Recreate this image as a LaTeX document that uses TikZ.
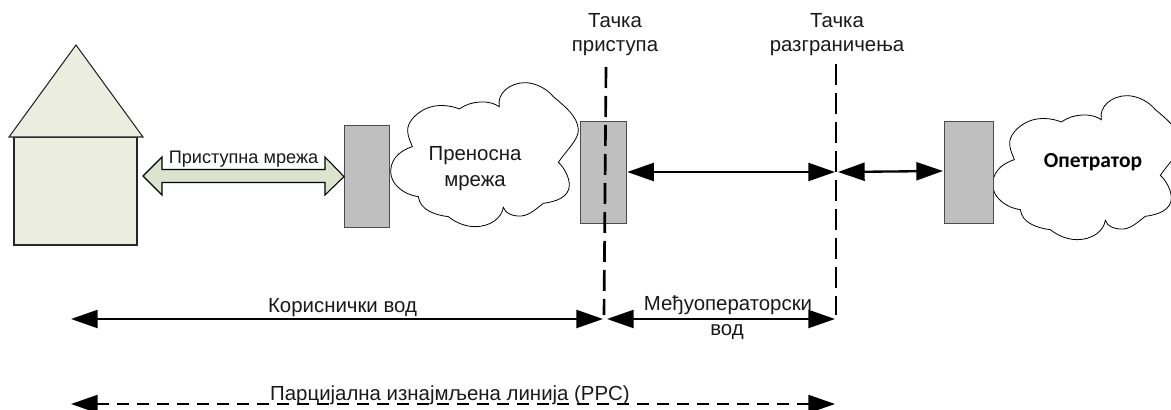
\documentclass[tikz,border=0pt]{standalone}
\usepackage{fontspec}
\setmainfont{Liberation Sans}
\newfontfamily\boldcal[Ligatures=TeX]{Carlito}
\usetikzlibrary{arrows.meta}
\newcommand{\cloudshape}[2]{%
\begin{scope}[shift={(#1*.75pt,-#2*.75pt)},x=.25pt,y=-.25pt]
\draw[cloudline] (217,440) .. controls (170,455) and (152,485) .. (152,515) .. controls (152,555) and (195,585) .. (235,590)
.. controls (240,630) and (285,645) .. (325,650) .. controls (350,670) and (380,680) .. (405,680) .. controls (450,680) and (485,655) .. (490,622)
.. controls (495,640) and (520,650) .. (545,648) .. controls (570,645) and (590,625) .. (610,610) .. controls (650,605) and (688,590) .. (688,555) .. controls (688,530) and (670,500) .. (655,487)
.. controls (680,450) and (715,420) .. (715,390) .. controls (715,350) and (670,315) .. (640,290) .. controls (620,265) and (585,248) .. (555,248) .. controls (510,248) and (470,280) .. (478,320)
.. controls (450,300) and (395,300) .. (358,327) .. controls (330,315) and (290,312) .. (260,325) .. controls (225,340) and (200,370) .. (203,395) .. controls (205,415) and (212,425) .. (217,440) -- cycle;
\end{scope}}
\tikzset{
 x=.75pt,y=-.75pt,
 cloudline/.style={draw=black,fill=white,line width=.6pt},
 housepart/.style={draw=black!85,fill=houseg,line width=.8pt,line join=miter},
 grey box/.style={draw=black!70,fill=boxg,line width=.9pt,inner sep=0,minimum width=#1*.75pt,minimum height=76.5pt},
 label/.style={inner sep=0,align=center,font=\fontsize{15.3pt}{18pt}\selectfont,text=black!90},
 baselabel/.style={label,anchor=base},
 bigarrow/.style={line width=1.75pt,{Triangle[length=20pt,width=13.5pt]}-{Triangle[length=20pt,width=13.5pt]}},
 dashline/.style={line width=2pt,dash pattern=on 15.75pt off 6pt},
}
\definecolor{houseg}{HTML}{EBEEDF}
\definecolor{boxg}{HTML}{BFBFBF}
\definecolor{arrowg}{HTML}{DDE3CD}
\begin{document}
\begin{tikzpicture}
\useasboundingbox (0,0) rectangle (1171,410);
% house
\draw[housepart] (14,137) rectangle (137,245);
\draw[housepart] (9,137) -- (76,45) -- (143,137) -- cycle;
% boxes and clouds
\cloudshape{340}{0}
\cloudshape{942}{13}
\node[grey box=45,anchor=north west] (b1) at (344,125) {};
\node[grey box=46,anchor=north west] (b2) at (580,121) {};
\node[grey box=49,anchor=north west] (b3) at (944,121) {};
% fat double arrow
\coordinate (al) at (143,176);
\draw[draw=black,fill=arrowg,line width=.8pt,line join=miter] (al) -- (162,157) -- (162,169.5) -- (325,169.5) -- (325,157) -- (b1.west) -- (325,195) -- (325,182.5) -- (162,182.5) -- (162,195) -- cycle;
\node[baselabel,fill=white,inner xsep=1pt,font=\fontsize{13.6pt}{16pt}\selectfont] (acc) at (243.5,163) {Приступна мрежа};
% vertical dashed lines
\coordinate (v1t) at (606,67);
\coordinate (v1b) at (604,315);
\coordinate (v2t) at (836,64);
\coordinate (v2b) at (836,315);
\coordinate (m) at (835,172);
\draw[dashline] (v1t) -- (v1b);
\draw[dashline] (v2t) -- (v2b);
% arrows
\draw[bigarrow] (b2.east |- m) -- (m);
\draw[bigarrow] (838,172) -- (943,171);
\coordinate (ll) at (71,319);
\coordinate (lm) at (603,319);
\coordinate (lm2) at (607,319);
\coordinate (lr) at (835,319);
\draw[bigarrow] (ll) -- (lm);
\draw[bigarrow] (lm2) -- (lr);
\coordinate (dl) at (71,404);
\coordinate (dr) at (835,404);
\draw[bigarrow,line width=1.6pt,dash pattern=on 9pt off 6pt] (dl) -- (dr);
% labels
\node[label] (t1) at (615,35) {Тачка\\приступа};
\node[label] (t2) at (837,35) {Тачка\\разграничења};
\node[label,font=\fontsize{15.3pt}{19.5pt}\selectfont] (t3) at (475,169) {Преносна\\мрежа};
\node[font=\boldcal\bfseries\fontsize{16.1pt}{18pt}\selectfont,inner sep=0,anchor=base] (t4) at (1093,167) {Опетратор};
\node[baselabel] (t5) at (342.5,312) {Кориснички вод};
\node[baselabel] (t6) at (728,310) {Међуоператорски};
\node[baselabel] (t7) at (727,335) {вод};
\node[baselabel] (t8) at (450,400) {Парцијална изнајмљена линија (PPC)};
\end{tikzpicture}
\end{document}
